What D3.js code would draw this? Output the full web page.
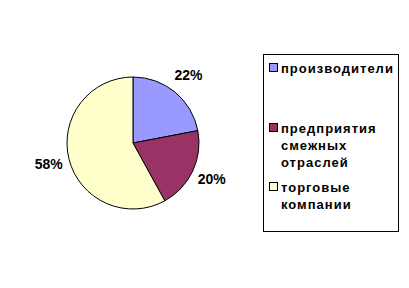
<!DOCTYPE html>
<html lang="ru">
<head>
    <meta charset="UTF-8">
    <script src="https://d3js.org/d3.v7.min.js"></script>
    <style>
        body { margin: 0; background: #fff; }
        text { font-family: "Liberation Sans", Arial, sans-serif; font-weight: bold; }
    </style>
    <title>Pie</title>
</head>
<body>
    <script>
        // Chart data
        const categories = ["производители", "предприятия смежных отраслей", "торговые компании"];
        const values = [22, 20, 58];
        const colors = ["#9999FF", "#993366", "#FFFFCC"];
        const legendLines = [["производители"], ["предприятия", "смежных", "отраслей"], ["торговые", "компании"]];

        const width = 409, height = 288;
        const cx = 133, cy = 143, radius = 66;

        const svg = d3.select("body").append("svg")
            .attr("width", width)
            .attr("height", height);

        const pie = d3.pie().sort(null).value(d => d);
        const arcs = pie(values);
        const arc = d3.arc().innerRadius(0).outerRadius(radius);
        const labelArc = d3.arc().innerRadius(radius + 21).outerRadius(radius + 21);

        const g = svg.append("g").attr("transform", `translate(${cx},${cy})`);

        g.selectAll("path")
            .data(arcs)
            .enter().append("path")
            .attr("d", arc)
            .attr("fill", (d, i) => colors[i])
            .attr("stroke", "#000")
            .attr("stroke-width", 1);

        g.selectAll("text.pct")
            .data(arcs)
            .enter().append("text")
            .attr("class", "pct")
            .attr("transform", d => `translate(${labelArc.centroid(d)})`)
            .attr("text-anchor", "middle")
            .attr("dy", "0.3em")
            .style("font-size", "14px")
            .text(d => d.data + "%");

        // Legend
        const lx = 263, ly = 54, lw = 135, lh = 177;
        svg.append("rect")
            .attr("x", lx + 0.5).attr("y", ly + 0.5)
            .attr("width", lw).attr("height", lh)
            .attr("fill", "#fff").attr("stroke", "#000");

        const itemY = [68, 128, 187];
        const lineH = 17;

        categories.forEach((c, i) => {
            svg.append("rect")
                .attr("x", lx + 6.5).attr("y", itemY[i] - 4.5)
                .attr("width", 8).attr("height", 8)
                .attr("fill", colors[i]).attr("stroke", "#000");
            legendLines[i].forEach((t, j) => {
                svg.append("text")
                    .attr("x", lx + 18)
                    .attr("y", itemY[i] + j * lineH)
                    .attr("dy", "0.35em")
                    .style("font-size", "13px")
                    .style("letter-spacing", "1px")
                    .text(t);
            });
        });
    </script>
</body>
</html>
